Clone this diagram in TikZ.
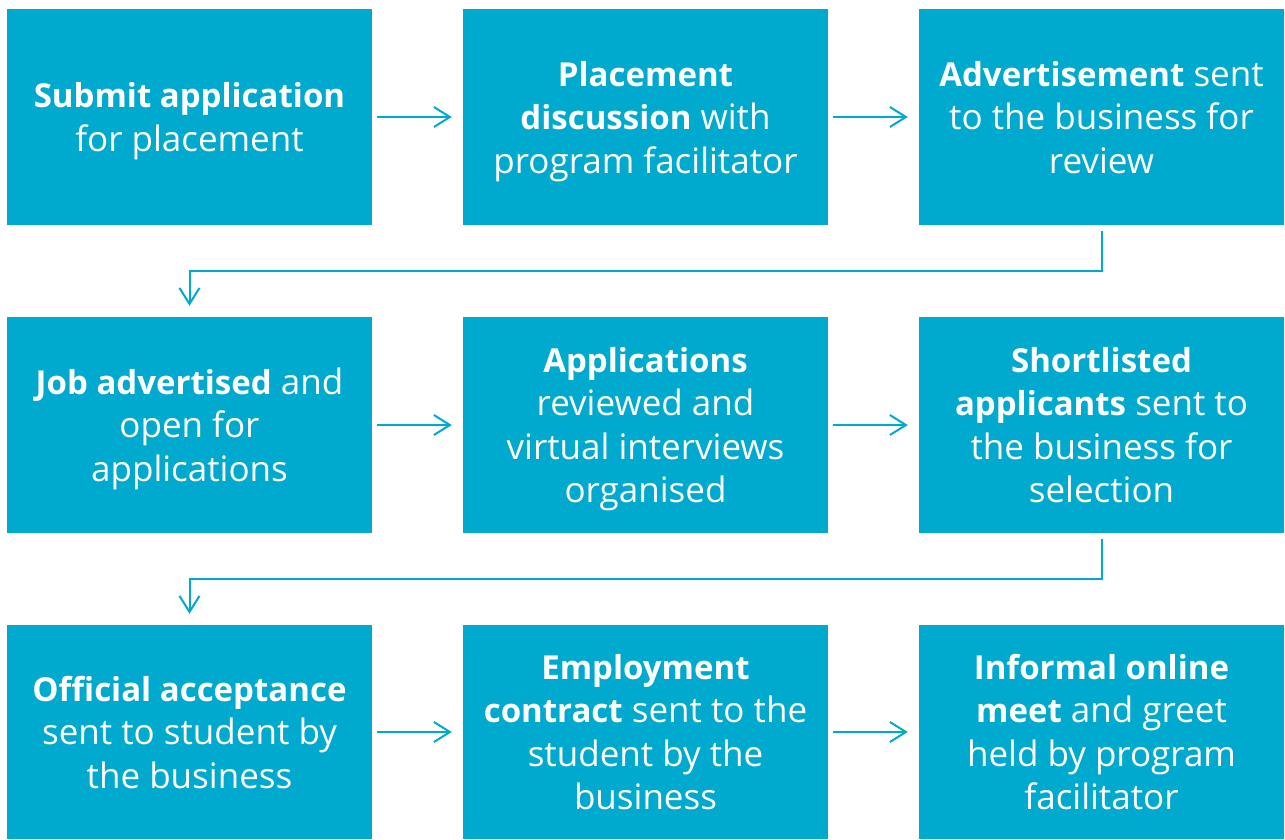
\documentclass[tikz,border=0pt]{standalone}
\usepackage{fontspec}
\setmainfont{Open Sans}
\usetikzlibrary{arrows.meta}
\definecolor{boxblue}{RGB}{0,169,206}
\newcommand{\B}[1]{{\fontsize{33}{43.5}\selectfont\bfseries #1}}
\newcommand{\st}{\rule[-9.25pt]{0pt}{43.5pt}}
\begin{document}
\begin{tikzpicture}[x=1pt,y=1pt,
  stepbox/.style={fill=boxblue,draw=none,text=white,minimum width=365pt,minimum height=216pt,inner sep=0pt,align=center,font=\fontsize{35}{43.5}\selectfont},
  conn/.style={draw=boxblue,line width=2pt,-{Straight Barb[length=16pt,width=20pt,line width=2pt]}}]
\useasboundingbox (0,0) rectangle (1285,-839);
\node[stepbox] (n1) at (189.5,-117) {\st\B{Submit application}\\for placement\st};
\node[stepbox] (n2) at (645.5,-117) {\st\B{Placement}\\\B{discussion} with\\program facilitator\st};
\node[stepbox] (n3) at (1101.5,-117) {\st\B{Advertisement} sent\\to the business for\\review\st};
\node[stepbox] (n4) at (189.5,-425) {\st\B{Job advertised} and\\open for\\applications\st};
\node[stepbox] (n5) at (645.5,-425) {\st\B{Applications}\\reviewed and\\virtual interviews\\organised\st};
\node[stepbox] (n6) at (1101.5,-425) {\st\B{Shortlisted}\\\B{applicants} sent to\\the business for\\selection\st};
\node[stepbox,minimum height=214pt] (n7) at (189.5,-732) {\st\B{Official acceptance}\\sent to student by\\the business\st};
\node[stepbox,minimum height=214pt] (n8) at (645.5,-732) {\st\B{Employment}\\\B{contract} sent to the\\student by the\\business\st};
\node[stepbox,minimum height=214pt] (n9) at (1101.5,-732) {\st\B{Informal online}\\\B{meet} and greet\\held by program\\facilitator\st};
\draw[conn] ([xshift=5pt]n1.east) -- ([xshift=-11pt]n2.west);
\draw[conn] ([xshift=5pt]n2.east) -- ([xshift=-11pt]n3.west);
\draw[conn] ([xshift=5pt]n4.east) -- ([xshift=-11pt]n5.west);
\draw[conn] ([xshift=5pt]n5.east) -- ([xshift=-11pt]n6.west);
\draw[conn] ([xshift=5pt]n7.east) -- ([xshift=-11pt]n8.west);
\draw[conn] ([xshift=5pt]n8.east) -- ([xshift=-11pt]n9.west);
\draw[conn] ([yshift=-6pt]n3.south) -- ++(0,-40) -| ([yshift=11pt]n4.north);
\draw[conn] ([yshift=-6pt]n6.south) -- ++(0,-40) -| ([yshift=11pt]n7.north);
\end{tikzpicture}
\end{document}
